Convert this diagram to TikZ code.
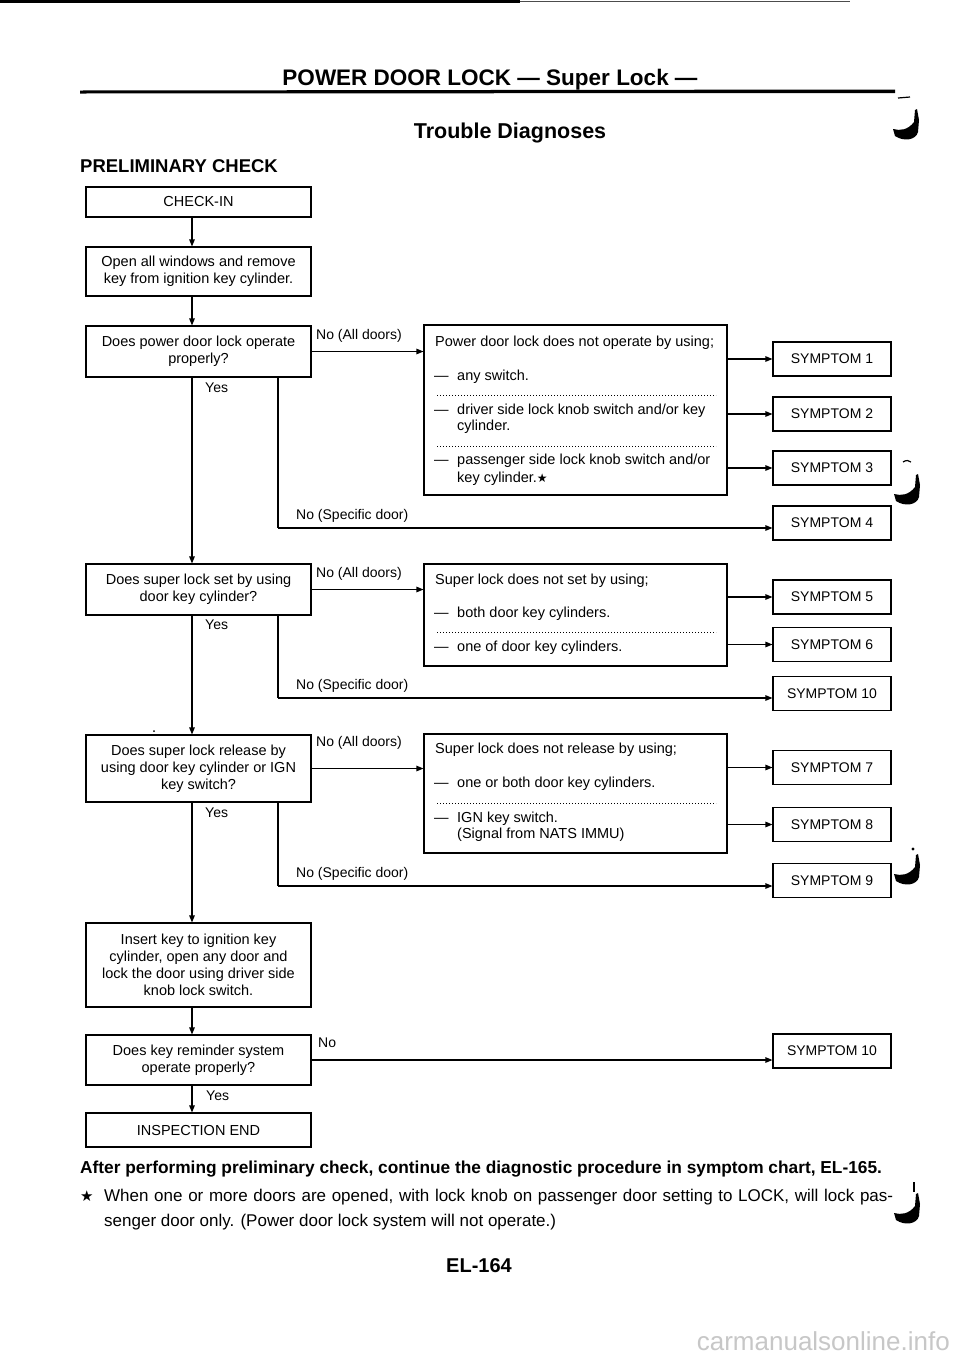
\documentclass[tikz,border=0pt]{standalone}
\usepackage{fontspec}
\setmainfont{Liberation Sans}
\newfontfamily\djv{DejaVu Sans}
\usetikzlibrary{arrows.meta,calc}
\newcommand\bxf{\fontsize{14.5}{17}\selectfont}
\newcommand\smf{\fontsize{14}{17}\selectfont}
\begin{document}
\begin{tikzpicture}[x=1pt,y=-1pt,
 box/.style={draw,line width=1.1pt,inner sep=0pt,align=center,font=\bxf,minimum width=225pt},
 sym/.style={draw,line width=1.1pt,inner sep=0pt,font=\smf,minimum width=118pt,minimum height=34pt},
 big/.style={draw,line width=1.1pt,inner sep=0pt,minimum width=303pt},
 ln/.style={line width=1.1pt},
 arr/.style={line width=1.1pt,-{Triangle[length=7pt,width=5.5pt]}},
 dots/.style={line width=0.9pt,dash pattern=on 0.9pt off 2.1pt},
 txt/.style={anchor=base west,inner sep=0pt,font=\bxf},
 lbl/.style={anchor=base west,inner sep=0pt,font=\smf},
 tickmark/.pic={\fill (3,-30) -- (5,-31) -- (7,-20) -- (6,-8) .. controls (4,0) and (-8,2) .. (-17,-4) -- (-19,-11) .. controls (-12,-9) and (-4,-10) .. (2,-18) -- cycle;},
]
\useasboundingbox (0,0) rectangle (960,1358);
\fill[white] (0,0) rectangle (960,1358);
% scan bar at top
\fill (0,0) rectangle (520,3);
\draw[line width=1pt,black!70] (520,1.5) -- (850,1.5);
% header
\node[anchor=base,inner sep=0pt,font=\bfseries\fontsize{22.5}{26}\selectfont] (title) at (490,85) {POWER DOOR LOCK — Super Lock —};
\fill (80,90.5) -- (895,89.5) -- (895,93) -- (80,93.5) -- cycle;
\node[anchor=base,inner sep=0pt,font=\bfseries\fontsize{21.5}{26}\selectfont] (trouble) at (510,138) {Trouble Diagnoses};
\node[anchor=base west,inner sep=0pt,font=\bfseries\fontsize{18.5}{22}\selectfont] (prelim) at (80,172) {PRELIMINARY CHECK};
% marks in margin
\pic at (912,140) {tickmark};
\draw[line width=1.2pt] (898,98) -- (910,97);
\pic at (913,505) {tickmark};
\draw[line width=1.2pt] (903,462) .. controls (906,460) and (909,460) .. (911,462);
\pic at (913,885) {tickmark};
\fill (913,849) circle (1.6);
\pic at (913,1224) {tickmark};
\draw[line width=2pt] (914,1182) -- (914,1192);
\fill (154,731) circle (1);
% left column
\coordinate (ax) at (192,0);
\node[box,minimum height=30pt] (checkin) at (198.5,202) {CHECK-IN};
\node[box,minimum height=49pt] (open) at (198.5,271.5) {Open all windows and remove\\key from ignition key cylinder.};
\node[box,minimum height=51pt] (q1) at (198.5,351.5) {Does power door lock operate\\properly?};
\node[box,minimum height=51pt] (q2) at (198.5,589.5) {Does super lock set by using\\door key cylinder?};
\node[box,minimum height=67pt] (q3) at (198.5,768.5) {Does super lock release by\\using door key cylinder or IGN\\key switch?};
\node[box,minimum height=84pt] (ins) at (198.5,965) {Insert key to ignition key\\cylinder, open any door and\\lock the door using driver side\\knob lock switch.};
\node[box,minimum height=50pt] (q4) at (198.5,1060) {Does key reminder system\\operate properly?};
\node[box,minimum height=34pt] (fin) at (198.5,1130) {INSPECTION END};
\draw[arr] (checkin.south -| ax) -- (open.north -| ax);
\draw[arr] (open.south -| ax) -- (q1.north -| ax);
\draw[arr] (q1.south -| ax) -- (q2.north -| ax);
\draw[arr] (q2.south -| ax) -- (q3.north -| ax);
\draw[arr] (q3.south -| ax) -- (ins.north -| ax);
\draw[arr] (ins.south -| ax) -- (q4.north -| ax);
\draw[arr] (q4.south -| ax) -- (fin.north -| ax);
% yes / no labels
\node[lbl] (y1) at (205,392) {Yes};
\node[lbl] (y2) at (205,629) {Yes};
\node[lbl] (y3) at (205,817) {Yes};
\node[lbl] (y4) at (206,1100) {Yes};
\node[lbl] (n1) at (316,339) {No (All doors)};
\node[lbl] (n2) at (316,577) {No (All doors)};
\node[lbl] (n3) at (316,746) {No (All doors)};
\node[lbl] (n4) at (318,1047) {No};
\node[lbl] (sp1) at (296,519) {No (Specific door)};
\node[lbl] (sp2) at (296,689) {No (Specific door)};
\node[lbl] (sp3) at (296,877) {No (Specific door)};
% big boxes
\node[big,minimum height=170pt] (boxA) at (575.5,410) {};
\node[big,minimum height=102pt] (boxB) at (575.5,615) {};
\node[big,minimum height=119pt] (boxC) at (575.5,793.5) {};
\node[txt] (a1) at (435,346) {Power door lock does not operate by using;};
\node[txt] (a2d) at (434,380) {—};
\node[txt] (a2) at (457,380) {any switch.};
\node[txt] (a3d) at (434,414) {—};
\node[txt] (a3) at (457,414) {driver side lock knob switch and/or key};
\node[txt] (a4) at (457,430) {cylinder.};
\node[txt] (a5d) at (434,464) {—};
\node[txt] (a5) at (457,464) {passenger side lock knob switch and/or};
\node[txt] (a6) at (457,482) {key cylinder.{\djv\fontsize{12}{12}\selectfont ★}};
\draw[dots] (437,395) -- (716,395);
\draw[dots] (437,446) -- (716,446);
\node[txt] (b1) at (435,584) {Super lock does not set by using;};
\node[txt] (b2d) at (434,617) {—};
\node[txt] (b2) at (457,617) {both door key cylinders.};
\node[txt] (b3d) at (434,651) {—};
\node[txt] (b3) at (457,651) {one of door key cylinders.};
\draw[dots] (437,632) -- (716,632);
\node[txt] (c1) at (435,753) {Super lock does not release by using;};
\node[txt] (c2d) at (434,787) {—};
\node[txt] (c2) at (457,787) {one or both door key cylinders.};
\node[txt] (c3d) at (434,822) {—};
\node[txt] (c3) at (457,822) {IGN key switch.};
\node[txt] (c4) at (457,838) {(Signal from NATS IMMU)};
\draw[dots] (437,803) -- (716,803);
% symptoms
\node[sym] (s1) at (832,359) {SYMPTOM 1};
\node[sym] (s2) at (832,414) {SYMPTOM 2};
\node[sym] (s3) at (832,468) {SYMPTOM 3};
\node[sym] (s4) at (832,523) {SYMPTOM 4};
\node[sym] (s5) at (832,597) {SYMPTOM 5};
\node[sym] (s6) at (832,644.5) {SYMPTOM 6};
\node[sym] (s10a) at (832,693.5) {SYMPTOM 10};
\node[sym] (s7) at (832,767.5) {SYMPTOM 7};
\node[sym] (s8) at (832,824.5) {SYMPTOM 8};
\node[sym] (s9) at (832,880.5) {SYMPTOM 9};
\node[sym] (s10b) at (832,1051) {SYMPTOM 10};
% connectors
\draw[arr] (q1.east) -- (q1.east -| boxA.west);
\draw[arr] (q2.east) -- (q2.east -| boxB.west);
\draw[arr] (q3.east) -- (q3.east -| boxC.west);
\draw[arr] (q4.east) -- (q4.east -| s10b.west);
\draw[arr] (boxA.east |- s1) -- (s1.west);
\draw[arr] (boxA.east |- s2) -- (s2.west);
\draw[arr] (boxA.east |- s3) -- (s3.west);
\draw[arr] (boxB.east |- s5) -- (s5.west);
\draw[arr] (boxB.east |- s6) -- (s6.west);
\draw[arr] (boxC.east |- s7) -- (s7.west);
\draw[arr] (boxC.east |- s8) -- (s8.west);
\coordinate (k1) at (278,528);
\coordinate (k2) at (278,698);
\coordinate (k3) at (278,886);
\draw[ln] (q1.south -| k1) -- (k1);
\draw[arr] (k1) -- (k1 -| s4.west);
\draw[ln] (q2.south -| k2) -- (k2);
\draw[arr] (k2) -- (k2 -| s10a.west);
\draw[ln] (q3.south -| k3) -- (k3);
\draw[arr] (k3) -- (k3 -| s9.west);
% footer
\node[anchor=base west,inner sep=0pt,font=\bfseries\fontsize{17.3}{20}\selectfont] (after) at (80,1173) {After performing preliminary check, continue the diagnostic procedure in symptom chart, EL-165.};
\node[anchor=base west,inner sep=0pt,font=\djv\fontsize{15}{16}\selectfont] (star) at (80,1201) {★};
\node[anchor=base west,inner sep=0pt,font=\fontsize{17}{20}\selectfont] (note1) at (104,1201) {\makebox[789pt][s]{When one or more doors are opened, with lock knob on passenger door setting to LOCK, will lock pas-}};
\node[anchor=base west,inner sep=0pt,font=\fontsize{17}{20}\selectfont] (note2) at (104,1226) {senger door only. (Power door lock system will not operate.)};
\node[anchor=base,inner sep=0pt,font=\bfseries\fontsize{20}{24}\selectfont] (page) at (479,1272) {EL-164};
\node[anchor=base east,inner sep=0pt,font=\fontsize{26}{30}\selectfont,text=black!22] (wm) at (950,1350) {carmanualsonline.info};
\end{tikzpicture}
\end{document}
